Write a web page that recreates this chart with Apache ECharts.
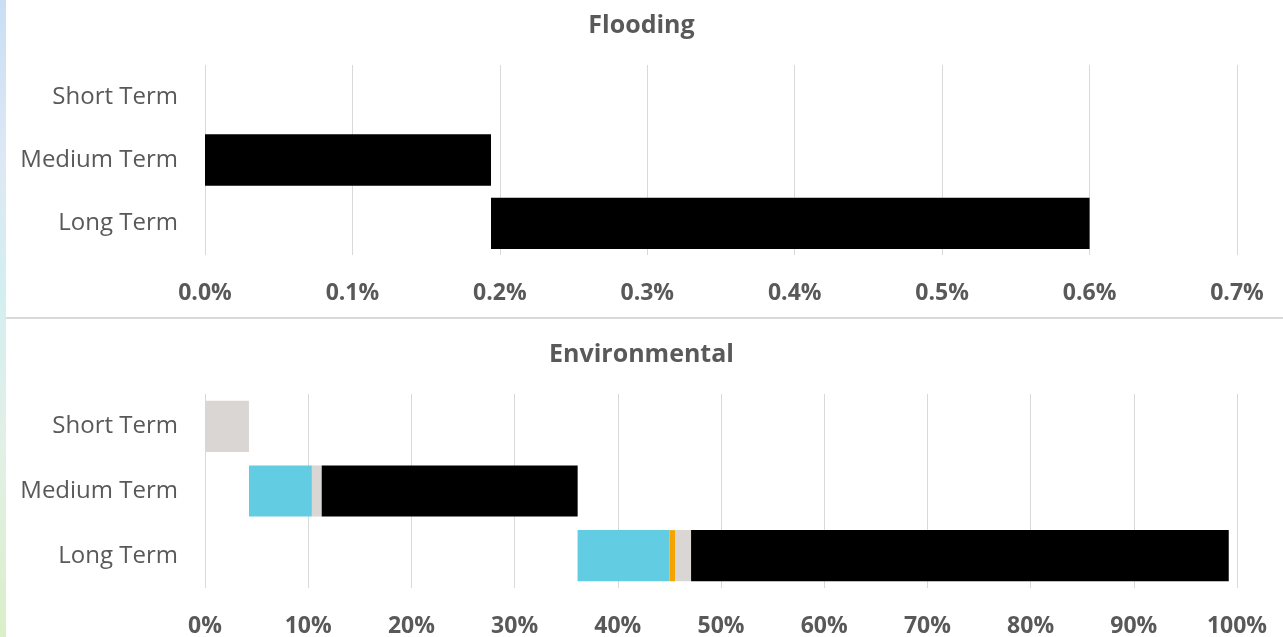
<!DOCTYPE html>
<html>
<head>
<meta charset="utf-8">
<script src="https://cdn.jsdelivr.net/npm/echarts@6/dist/echarts.min.js"></script>
<style>
  html, body { margin: 0; padding: 0; background: #fff; }
  #strip {
    position: absolute; left: 0; top: 0; width: 6px; height: 637px;
    background: linear-gradient(#c9def5 0%, #dde8f4 25%, #d3eef0 45%, #e2f0e6 70%, #d9efc8 100%);
  }
  #chart { width: 1283px; height: 637px; }
</style>
</head>
<body>
<div id="strip"></div>
<div id="chart"></div>
<script>
// category rows (top to bottom)
const terms = ['Short Term', 'Medium Term', 'Long Term'];

// Flooding, in percent
const floodOffset = [0, 0, 0.194];
const floodBlack = [0, 0.194, 0.406];

// Environmental, in percent
const envOffset = [0, 4.26, 36.1];
const envCyan = [0, 6.1, 8.9];
const envOrange = [0, 0, 0.55];
const envGrey = [4.26, 0.95, 1.55];
const envBlack = [0, 24.8, 52.1];

const FONT = '"Open Sans", sans-serif';
const TEXT = '#595959';

function xAxisFor(gridIndex, max, interval, fmt, margin) {
  return {
    gridIndex, type: 'value', min: 0, max, interval,
    axisLine: { show: false }, axisTick: { show: false },
    splitLine: { lineStyle: { color: '#d9d9d9', width: 1 } },
    axisLabel: { color: TEXT, fontFamily: FONT, fontSize: 23, fontWeight: 'bold', margin, formatter: fmt },
  };
}
function yAxisFor(gridIndex) {
  return {
    gridIndex, type: 'category', data: terms, inverse: true,
    axisLine: { show: false }, axisTick: { show: false },
    axisLabel: { color: TEXT, fontFamily: FONT, fontSize: 24, margin: 27 },
  };
}
function seg(name, data, color, axis, gap) {
  return {
    name, type: 'bar', stack: 's' + axis, xAxisIndex: axis, yAxisIndex: axis,
    data, barCategoryGap: gap, silent: true,
    itemStyle: { color },
  };
}

const chart = echarts.init(document.getElementById('chart'), null, { renderer: 'canvas' });
chart.setOption({
  animation: false,
  title: [
    { text: 'Flooding', left: 'center', top: 8, textStyle: { color: TEXT, fontFamily: FONT, fontSize: 25, fontWeight: 'bold' } },
    { text: 'Environmental', left: 'center', top: 337, textStyle: { color: TEXT, fontFamily: FONT, fontSize: 25, fontWeight: 'bold' } },
  ],
  grid: [
    { left: 205, right: 46, top: 65, height: 190, outerBoundsMode: 'none' },
    { left: 205, right: 46, top: 394, height: 194, outerBoundsMode: 'none' },
  ],
  xAxis: [
    xAxisFor(0, 0.7, 0.1, (v) => v.toFixed(1) + '%', 27),
    xAxisFor(1, 100, 10, (v) => v + '%', 27),
  ],
  yAxis: [yAxisFor(0), yAxisFor(1)],
  graphic: [
    { type: 'line', shape: { x1: 6, y1: 318, x2: 1283, y2: 318 }, style: { stroke: '#d9d9d9', lineWidth: 2 } },
  ],
  series: [
    seg('offset', floodOffset, 'transparent', 0, '19%'),
    seg('flood', floodBlack, '#000000', 0, '19%'),
    seg('offset', envOffset, 'transparent', 1, '21%'),
    seg('cyan', envCyan, '#62cce2', 1, '21%'),
    seg('orange', envOrange, '#f5a300', 1, '21%'),
    seg('grey', envGrey, '#d9d6d3', 1, '21%'),
    seg('black', envBlack, '#000000', 1, '21%'),
  ],
});
</script>
</body>
</html>
